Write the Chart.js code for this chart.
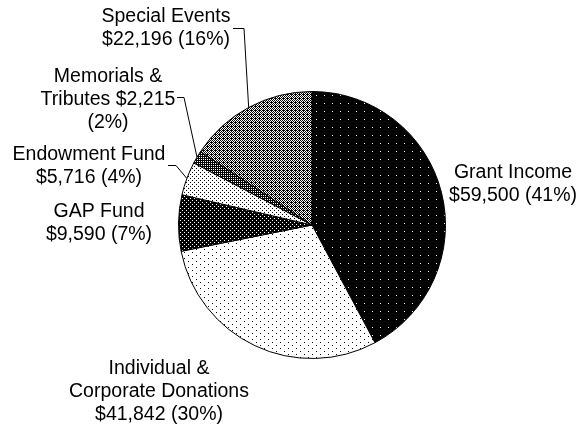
<!DOCTYPE html>
<html>
<head>
<meta charset="utf-8">
<script src="https://cdn.jsdelivr.net/npm/chart.js@4.4.0/dist/chart.umd.min.js"></script>
<style>
  html, body { margin: 0; padding: 0; background: #fff; }
  #wrap { width: 580px; height: 427px; }
</style>
</head>
<body>
<div id="wrap"><canvas id="pie"></canvas></div>
<script>
const categories = ["Grant Income", "Individual & Corporate Donations", "GAP Fund", "Endowment Fund", "Memorials & Tributes", "Special Events"];
const amounts = [59500, 41842, 9590, 5716, 2215, 22196];
const percents = ["41%", "30%", "7%", "4%", "2%", "16%"];

// label text lines, as printed on the chart
const labelLines = [
  ["Grant Income", "$59,500 (41%)"],
  ["Individual &", "Corporate Donations", "$41,842 (30%)"],
  ["GAP Fund", "$9,590 (7%)"],
  ["Endowment Fund", "$5,716 (4%)"],
  ["Memorials &", "Tributes $2,215", "(2%)"],
  ["Special Events", "$22,196 (16%)"]
];
// where each label block sits (center x, first line y), and leader elbow if any
const labelPos = [
  {x: 513, y: 173},
  {x: 159, y: 369},
  {x: 99, y: 212},
  {x: 89, y: 155, lead: [168, 165, 176, 165]},
  {x: 108, y: 77, lead: [177, 97, 184, 97]},
  {x: 166, y: 17, lead: [233, 28, 244, 28]}
];

// small bitmap fill patterns, 1 = black pixel
function makePattern(rows) {
  const c = document.createElement('canvas');
  c.width = rows[0].length; c.height = rows.length;
  const g = c.getContext('2d');
  g.fillStyle = '#fff'; g.fillRect(0, 0, c.width, c.height);
  g.fillStyle = '#000';
  rows.forEach((r, y) => { for (let x = 0; x < r.length; x++) if (r[x] === '1') g.fillRect(x, y, 1, 1); });
  return document.getElementById('pie').getContext('2d').createPattern(c, 'repeat');
}

const fills = [
  makePattern(["11111111","11111111","11111111","11111111","11111111","11111111","11111111","11110111"]),
  makePattern(["10000000","00000000","00000000","00001000","00000000","00000000"]),
  makePattern(["0111","1111","1101","1111"]),
  makePattern(["1000","0000","0010","0000"]),
  makePattern(["11","10"]),
  makePattern(["1010","0101","1011","0101"])
];

const labelPlugin = {
  id: 'outLabels',
  afterDraw(chart) {
    const ctx = chart.ctx;
    const arcs = chart.getDatasetMeta(0).data;
    ctx.save();
    ctx.font = '19.5px "Liberation Sans", Arial, sans-serif';
    ctx.fillStyle = '#000';
    ctx.textAlign = 'center';
    ctx.textBaseline = 'middle';
    labelLines.forEach((lines, i) => {
      const p = labelPos[i];
      lines.forEach((t, k) => ctx.fillText(t, p.x, p.y + k * 23));
      if (p.lead) {
        const a = arcs[i];
        const mid = (a.startAngle + a.endAngle) / 2;
        const ex = a.x + Math.cos(mid) * a.outerRadius;
        const ey = a.y + Math.sin(mid) * a.outerRadius;
        ctx.strokeStyle = '#000';
        ctx.lineWidth = 1;
        ctx.beginPath();
        ctx.moveTo(p.lead[0], p.lead[1] + 0.5);
        ctx.lineTo(p.lead[2], p.lead[3] + 0.5);
        ctx.lineTo(ex, ey);
        ctx.stroke();
      }
    });
    ctx.restore();
  }
};

new Chart(document.getElementById('pie'), {
  type: 'pie',
  data: {
    labels: categories,
    datasets: [{
      data: amounts,
      backgroundColor: fills,
      borderColor: '#000',
      borderWidth: 1
    }]
  },
  options: {
    responsive: true,
    maintainAspectRatio: false,
    animation: false,
    layout: { padding: { left: 178, right: 134, top: 91, bottom: 68 } },
    plugins: { legend: { display: false }, tooltip: { enabled: false } }
  },
  plugins: [labelPlugin]
});
</script>
</body>
</html>
